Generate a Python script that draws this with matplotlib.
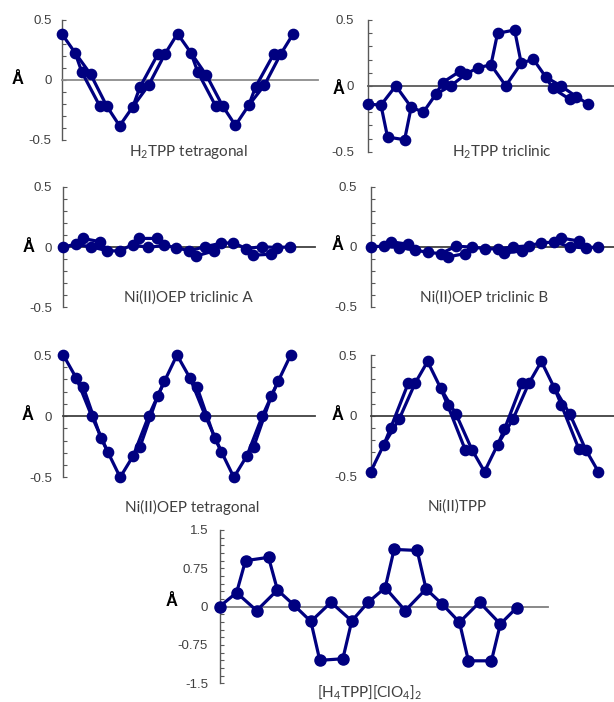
import numpy as np
import matplotlib
matplotlib.use("Agg")
import matplotlib.pyplot as plt
from matplotlib.ticker import MultipleLocator

plt.rcParams["font.family"] = ["Liberation Sans", "DejaVu Sans"]
plt.rcParams["mathtext.fontset"] = "custom"
plt.rcParams["mathtext.rm"] = "Lato"
plt.rcParams["mathtext.default"] = "regular"

# atom order per pyrrole unit: Cm, Ca, Cb, N, Cb, Ca ; a final Cm closes the ring
atom_pos = [0.0, 1.15, 1.75, 2.5, 3.3, 3.9]

h2tpp_tetragonal = [0.386, 0.228, 0.064, 0.047, -0.219, -0.219,
                    -0.382, -0.222, -0.061, -0.044, 0.214, 0.214,
                    0.386, 0.228, 0.067, 0.039, -0.217, -0.217,
                    -0.378, -0.211, -0.056, -0.044, 0.214, 0.214,
                    0.386]
h2tpp_triclinic = [-0.139, -0.146, -0.389, 0.0, -0.409, -0.162,
                   -0.200, -0.063, 0.025, 0.0, 0.109, 0.091,
                   0.139, 0.159, 0.399, 0.0, 0.424, 0.172,
                   0.202, 0.066, -0.018, 0.0, -0.101, -0.081,
                   -0.139]
nioep_triclinic_a = [0.0, 0.022, 0.071, 0.002, 0.044, -0.031,
                     -0.033, 0.020, 0.071, -0.004, 0.071, 0.014,
                     -0.005, -0.033, -0.074, 0.003, -0.033, 0.030,
                     0.036, -0.014, -0.068, 0.003, -0.060, -0.005,
                     0.002]
nioep_triclinic_b = [0.0, 0.004, 0.042, -0.008, 0.020, -0.028,
                     -0.047, -0.058, -0.086, 0.004, -0.057, -0.003,
                     -0.016, -0.019, -0.053, -0.003, -0.035, 0.008,
                     0.032, 0.039, 0.072, 0.0, 0.047, -0.011,
                     0.0]
nioep_tetragonal = [0.5, 0.31, 0.24, 0.0, -0.177, -0.29,
                    -0.5, -0.324, -0.25, 0.0, 0.166, 0.286,
                    0.5, 0.31, 0.24, 0.0, -0.177, -0.29,
                    -0.5, -0.324, -0.25, 0.0, 0.166, 0.286,
                    0.5]
nitpp = [-0.458, -0.238, -0.10, -0.027, 0.268, 0.268,
         0.447, 0.227, 0.09, 0.014, -0.277, -0.279,
         -0.458, -0.238, -0.11, -0.027, 0.268, 0.268,
         0.447, 0.227, 0.09, 0.014, -0.274, -0.279,
         -0.458]
h4tpp_clo4 = [0.0, 0.274, 0.90, -0.078, 0.965, 0.326,
              0.033, -0.29, -1.05, 0.085, -1.02, -0.28,
              0.085, 0.37, 1.12, -0.078, 1.10, 0.346,
              0.046, -0.306, -1.06, 0.085, -1.06, -0.34,
              -0.02]

titles = [r"H$_2$TPP tetragonal", r"H$_2$TPP triclinic",
          "Ni(II)OEP triclinic A", "Ni(II)OEP triclinic B",
          "Ni(II)OEP tetragonal", "Ni(II)TPP",
          r"[H$_4$TPP][ClO$_4$]$_2$"]
series = [h2tpp_tetragonal, h2tpp_triclinic, nioep_triclinic_a,
          nioep_triclinic_b, nioep_tetragonal, nitpp, h4tpp_clo4]

W, H = 614, 702
NAVY = "#000080"

# layout in pixels: left spine x, right end, top, bottom, data-end x, tick pad px,
# Angstrom label centre, title centre, zero-line colour
panels = [
    dict(l=61.7, r=318, t=20, b=140, de=293.3, pad=10, ang=(17.5, 80), tt=(188, 152), zc="#8c8c8c"),
    dict(l=368.3, r=614, t=20, b=151.7, de=588.3, pad=14, ang=(339, 89), tt=(502, 152), zc="#595959"),
    dict(l=62.7, r=315, t=186.7, b=307.3, de=290, pad=10.5, ang=(29, 247), tt=(188, 298), zc="#404040"),
    dict(l=370.7, r=614, t=186.7, b=306.7, de=598.3, pad=13.5, ang=(337.5, 246), tt=(484, 298), zc="#404040"),
    dict(l=63.3, r=315, t=355, b=477.3, de=290.7, pad=11, ang=(28, 416), tt=(192, 507), zc="#404040"),
    dict(l=370.7, r=614, t=355, b=476.7, de=598.3, pad=13.5, ang=(338, 416), tt=(457, 507), zc="#404040"),
    dict(l=219.5, r=548, t=530, b=683.3, de=516.7, pad=11.5, ang=(172, 601), tt=(369, 692), zc="#7f7f7f"),
]

fig = plt.figure(figsize=(W / 100, H / 100), dpi=100)

for k, (p, yv, title) in enumerate(zip(panels, series, titles)):
    ax = fig.add_axes([p["l"] / W, 1 - p["b"] / H, (p["r"] - p["l"]) / W, (p["b"] - p["t"]) / H])
    n_units = (len(yv) - 1) // 6
    x = np.array([u * 5 + atom_pos[j] for u in range(n_units) for j in range(6)] + [n_units * 5])
    y = np.array(yv)
    xmax = 20 * (p["r"] - p["l"]) / (p["de"] - p["l"])
    lim = 1.5 if k == 6 else 0.5
    ax.set_xlim(0, xmax)
    ax.set_ylim(-lim, lim)
    for u in range(n_units):
        i = 6 * u
        main = [i, i + 1, i + 2, i + 4, i + 5, i + 6]
        ring = [i + 1, i + 3, i + 5]
        ax.plot(x[main], y[main], color=NAVY, lw=2.3, clip_on=False, zorder=3)
        ax.plot(x[ring], y[ring], color=NAVY, lw=2.3, clip_on=False, zorder=3)
    ms = 8.0 if k == 6 else 7.4
    ax.plot(x, y, "o", ls="none", color=NAVY, ms=ms, mec=NAVY, clip_on=False, zorder=4)

    for s in ("top", "right"):
        ax.spines[s].set_visible(False)
    ax.spines["bottom"].set_position(("data", 0))
    ax.spines["bottom"].set_color(p["zc"])
    ax.spines["bottom"].set_linewidth(1.3)
    ax.spines["left"].set_color("#595959")
    ax.spines["left"].set_linewidth(1.0)
    ax.set_xticks([])
    if k == 6:
        ax.yaxis.set_major_locator(MultipleLocator(0.75))
        ax.yaxis.set_minor_locator(MultipleLocator(0.15))
        ax.set_yticks([-1.5, -0.75, 0, 0.75, 1.5])
        ax.set_yticklabels(["-1.5", "-0.75", "0", "0.75", "1.5"])
    else:
        ax.yaxis.set_minor_locator(MultipleLocator(0.1))
        ax.set_yticks([-0.5, 0, 0.5])
        ax.set_yticklabels(["-0.5", "0", "0.5"])
    ax.tick_params(axis="y", which="both", direction="in", length=3, width=0.8,
                   color="#595959", labelsize=9.5, labelcolor="#404040", pad=p["pad"] * 0.72)
    ax.patch.set_alpha(0)

    fig.text(p["ang"][0] / W, 1 - p["ang"][1] / H, "Å", fontsize=12, fontweight="bold",
             ha="center", va="center", color="black")
    fig.text(p["tt"][0] / W, 1 - p["tt"][1] / H, title, fontsize=11, family="Lato",
             ha="center", va="center", color="#404040")

fig.savefig("out.png", dpi=100)
